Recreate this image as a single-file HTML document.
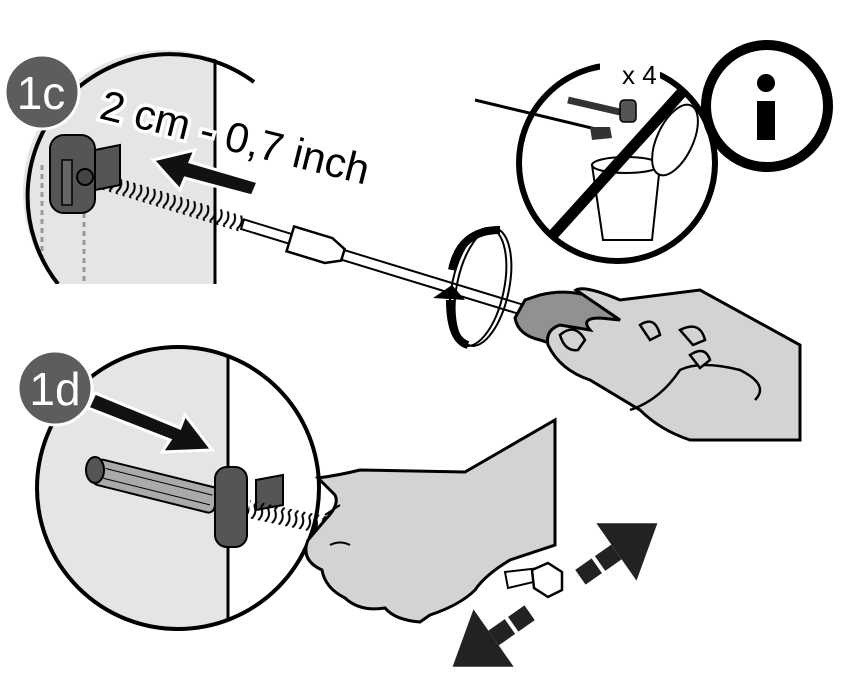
<!DOCTYPE html>
<html><head><meta charset="utf-8"><style>
html,body{margin:0;padding:0;background:#fff;width:846px;height:696px;overflow:hidden}
svg{display:block}
text{font-family:"Liberation Sans",sans-serif}
</style></head><body>
<svg width="846" height="696" viewBox="0 0 846 696">
<defs>
<clipPath id="c1"><circle cx="165" cy="192" r="142"/></clipPath>
<clipPath id="c2"><circle cx="178" cy="488" r="141"/></clipPath>
<pattern id="sp" width="7" height="14" patternUnits="userSpaceOnUse"><path d="M1 0 Q6 7 1 14" stroke="#000" stroke-width="2" fill="none"/></pattern>
</defs>
<!-- 1c circle -->
<g clip-path="url(#c1)">
<rect x="0" y="0" width="215" height="284" fill="#e4e5e6"/>
<line x1="215" y1="58" x2="215" y2="284" stroke="#000" stroke-width="3"/>
<line x1="42" y1="165" x2="42" y2="284" stroke="#999" stroke-width="3" stroke-dasharray="5 4"/>
<line x1="84" y1="195" x2="84" y2="284" stroke="#999" stroke-width="3" stroke-dasharray="5 4"/>
</g>
<path d="M58 284 A142 142 0 0 1 254 82" fill="none" stroke="#000" stroke-width="4"/>
<rect x="0" y="284" width="300" height="30" fill="#fff"/>
<!-- spring + shaft -->
<g transform="rotate(17 85 175)">
<rect x="85" y="168" width="165" height="16" fill="url(#sp)"/>
<rect x="250" y="171" width="300" height="10" fill="#fff" stroke="#000" stroke-width="2"/>
<path d="M300 163 L340 163 L355 170 L355 182 L340 189 L300 189 Z" fill="#fff" stroke="#000" stroke-width="2.5"/>
</g>
<!-- anchor -->
<rect x="50" y="135" width="45" height="78" rx="14" fill="#555" stroke="#000" stroke-width="2"/>
<rect x="62" y="160" width="10" height="45" fill="#666" stroke="#000" stroke-width="1.5"/>
<circle cx="85" cy="177" r="8" fill="#444" stroke="#000" stroke-width="2"/>
<path d="M95 150 L120 145 L120 185 L95 190 Z" fill="#555" stroke="#000" stroke-width="2"/>
<!-- arrow left -->
<path d="M258 182 L190 162 L195 150 L153 160 L180 190 L185 178 L252 196 Z" fill="#111" stroke="#fff" stroke-width="3"/>
<text x="98" y="118" font-size="42" transform="rotate(14 98 118)" fill="#000" stroke="#fff" stroke-width="7" style="paint-order:stroke">2 cm - 0,7 inch</text>
<!-- badge 1c -->
<circle cx="42" cy="92" r="37" fill="#5c5d5f" stroke="#fff" stroke-width="3"/>
<text x="41" y="109" font-size="46" fill="#fff" text-anchor="middle">1c</text>
<!-- rotation ring -->
<ellipse cx="483" cy="287" rx="26" ry="60" transform="rotate(12 483 287)" fill="none" stroke="#000" stroke-width="2"/>
<ellipse cx="478" cy="287" rx="26" ry="60" transform="rotate(12 478 287)" fill="none" stroke="#000" stroke-width="2"/>
<path d="M500 230 Q460 230 452 270" fill="none" stroke="#000" stroke-width="8"/>
<path d="M450 300 Q450 340 468 345" fill="none" stroke="#000" stroke-width="8"/>
<path d="M433 298 L452 285 L465 300 Z" fill="#000"/>
<!-- handle -->
<path d="M515 318 L525 300 L540 295 Q580 285 620 310 L740 365 Q770 385 755 400 Q735 405 690 390 L540 340 Q518 335 515 318 Z" fill="#919192" stroke="#000" stroke-width="3"/>
<!-- hand 1 -->
<path d="M576 290 Q585 285 620 300 L700 290 L800 345 L800 440 L690 440 Q660 430 640 410 L590 380 Q560 370 548 345 Q545 330 560 325 L590 330 Q580 318 600 318 L620 320 Z" fill="#d2d3d4" stroke="#000" stroke-width="3"/>
<path d="M630 410 Q660 400 680 370 Q700 360 740 370 Q770 385 755 400" fill="none" stroke="#000" stroke-width="2.5"/>
<path d="M560 335 Q575 322 585 340 L578 350 Q565 352 560 335 Z M640 325 Q655 315 660 335 L650 340 Z M680 330 Q700 320 705 340 L693 345 Z M690 355 Q705 345 710 360 L700 368 Z" fill="#d2d3d4" stroke="#000" stroke-width="2.5"/>
<!-- no sign -->
<circle cx="617" cy="163" r="98" fill="#fff" stroke="#000" stroke-width="6"/>
<rect x="600" y="55" width="60" height="32" fill="#fff"/>
<path d="M592 165 L660 165 L652 240 L603 240 Z" fill="#fff" stroke="#000" stroke-width="2"/>
<ellipse cx="626" cy="165" rx="34" ry="8" fill="#fff" stroke="#000" stroke-width="2"/>
<ellipse cx="675" cy="140" rx="18" ry="38" transform="rotate(25 675 140)" fill="#fff" stroke="#000" stroke-width="2"/>
<path d="M475 100 L600 130" stroke="#000" stroke-width="3"/>
<path d="M590 127 L610 127 L612 138 L592 140 Z" fill="#333"/>
<path d="M568 100 L620 112" stroke="#333" stroke-width="7"/>
<rect x="620" y="100" width="16" height="22" rx="4" fill="#555" stroke="#000" stroke-width="1.5"/>
<line x1="552" y1="236" x2="684" y2="90" stroke="#000" stroke-width="11"/>
<text x="622" y="84" font-size="26" fill="#000">x 4</text>
<!-- info -->
<circle cx="767" cy="106" r="61" fill="#fff" stroke="#000" stroke-width="10"/>
<circle cx="766" cy="83" r="9" fill="#000"/>
<rect x="757" y="101" width="18" height="39" fill="#000"/>
<!-- 1d circle -->
<g clip-path="url(#c2)">
<rect x="0" y="340" width="228" height="300" fill="#e4e5e6"/>
<line x1="228" y1="340" x2="228" y2="640" stroke="#000" stroke-width="3"/>
</g>
<circle cx="178" cy="488" r="141" fill="none" stroke="#000" stroke-width="4"/>
<g transform="rotate(14 95 470)">
<rect x="95" y="458" width="125" height="26" rx="6" fill="#aaa" stroke="#000" stroke-width="2"/>
<line x1="105" y1="466" x2="215" y2="466" stroke="#000" stroke-width="1"/>
<line x1="105" y1="476" x2="215" y2="476" stroke="#000" stroke-width="1"/>
</g>
<ellipse cx="95" cy="470" rx="9" ry="13" fill="#555" stroke="#000" stroke-width="2"/>
<rect x="215" y="467" width="32" height="80" rx="12" fill="#555" stroke="#000" stroke-width="2"/>
<path d="M256 480 L283 475 L283 505 L256 510 Z" fill="#555" stroke="#000" stroke-width="2"/>
<g transform="rotate(12 248 510)"><rect x="248" y="500" width="90" height="18" fill="url(#sp)"/></g>
<path d="M88 408 L170 440 L162 452 L212 450 L185 415 L180 428 L95 393 Z" fill="#111" stroke="#fff" stroke-width="3"/>
<circle cx="55" cy="388" r="37" fill="#5c5d5f" stroke="#fff" stroke-width="3"/>
<text x="55" y="405" font-size="46" fill="#fff" text-anchor="middle">1d</text>
<!-- hand 2 -->
<path d="M318 478 Q340 475 360 470 L465 472 L555 420 L555 545 L510 560 Q485 575 475 590 Q460 605 430 615 L420 622 Q395 620 385 608 Q360 612 345 598 Q325 588 322 570 Q300 560 308 540 L325 520 Q340 505 335 495 Z" fill="#d2d3d4" stroke="#000" stroke-width="3"/>
<path d="M325 515 L340 505 M330 545 Q340 540 350 545" stroke="#000" stroke-width="2" fill="none"/>
<!-- big double arrow -->
<g transform="rotate(-35 555 595)">
<rect x="480" y="586" width="20" height="18" fill="#222"/>
<rect x="504" y="586" width="20" height="18" fill="#222"/>
<rect x="586" y="586" width="20" height="18" fill="#222"/>
<rect x="610" y="586" width="20" height="18" fill="#222"/>
<path d="M630 560 L680 595 L630 630 Z" fill="#222"/>
<path d="M480 560 L430 595 L480 630 Z" fill="#222"/>
</g>
<path d="M505 572 L540 568 L542 580 L508 588 Z" fill="#fff" stroke="#000" stroke-width="2"/>
<path d="M532 570 L548 563 L562 572 L562 590 L548 597 L534 588 Z" fill="#fff" stroke="#000" stroke-width="2.5"/>
</svg>
</body></html>
